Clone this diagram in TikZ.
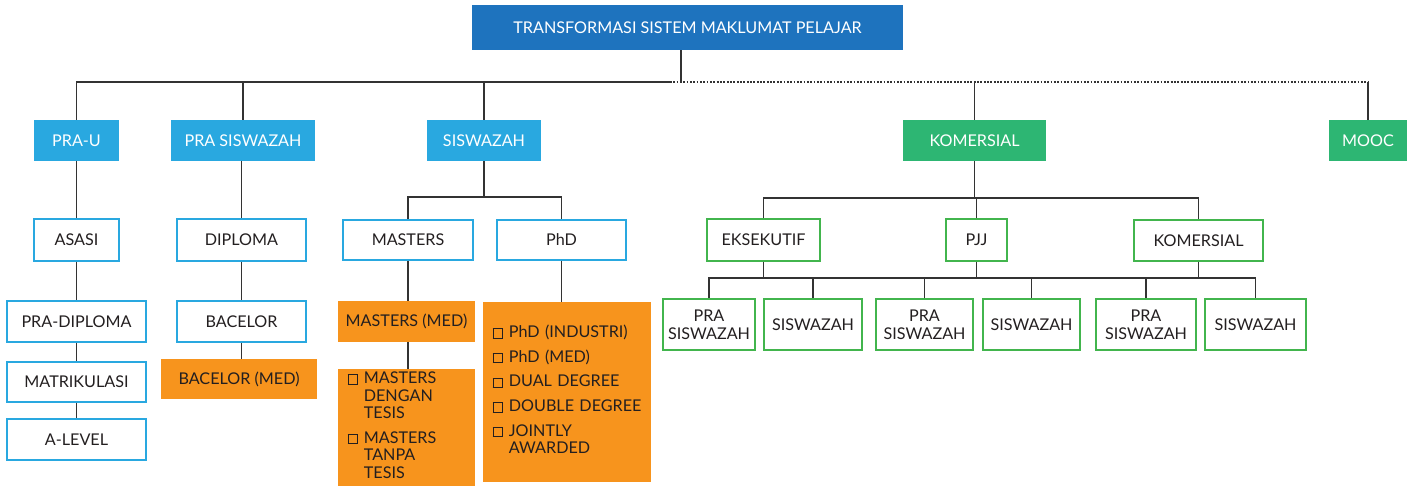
\documentclass[tikz,border=0pt]{standalone}
\usepackage{fontspec}
\setmainfont{Lato}
\definecolor{tajukbiru}{HTML}{1E73BE}
\definecolor{biru}{HTML}{29A8E0}
\definecolor{hijau}{HTML}{2DB673}
\definecolor{garishijau}{HTML}{42B54D}
\definecolor{jingga}{HTML}{F7941D}
\definecolor{garisan}{HTML}{333333}
\definecolor{teks}{HTML}{231F20}
% petak kecil untuk senarai
\newcommand{\petak}{{\fboxsep=0pt\fboxrule=0.6pt\fbox{\rule{0pt}{4.6pt}\rule{4.6pt}{0pt}}}}
\tikzset{
  kotak/.style={minimum height=0.82cm, inner sep=0pt, align=center},
  tajuk/.style={kotak, fill=tajukbiru, text=white},
  induk/.style={kotak, fill=biru, text=white},
  indukhijau/.style={kotak, fill=hijau, text=white},
  anakbiru/.style={kotak, draw=biru, line width=1.1pt, fill=white, text=teks},
  anakhijau/.style={kotak, draw=garishijau, line width=1.1pt, fill=white, text=teks},
  jinggabox/.style={kotak, fill=jingga, text=teks},
  senarai/.style={jinggabox, align=left, inner xsep=0.19cm},
  garis/.style={draw=garisan, line width=0.75pt},
  titik/.style={garis, dash pattern=on 1pt off 0.9pt}
}
\begin{document}
\begin{tikzpicture}[x=0.02cm, y=-0.02cm, font=\fontsize{9.2}{10}\selectfont]
  \useasboundingbox (0,0) rectangle (1412,486);
  % tajuk utama
  \node[tajuk, minimum width=8.62cm, minimum height=0.9cm] (tajuk) at (687.5,27.5) {TRANSFORMASI SISTEM MAKLUMAT PELAJAR};
  % aras 1
  \node[induk, minimum width=1.7cm] (prau) at (76.5,140.5) {PRA-U};
  \node[induk, minimum width=2.88cm] (prasis) at (243,140.5) {PRA SISWAZAH};
  \node[induk, minimum width=2.28cm] (sis) at (484,140.5) {SISWAZAH};
  \node[indukhijau, minimum width=2.86cm] (kom) at (974.5,140.5) {KOMERSIAL};
  \node[indukhijau, minimum width=1.56cm] (mooc) at (1368,140.5) {MOOC};
  % aras 2
  \node[anakbiru, minimum width=1.7cm, minimum height=0.84cm] (asasi) at (76.5,240) {ASASI};
  \node[anakbiru, minimum width=2.58cm, minimum height=0.84cm] (diploma) at (241.5,240) {DIPLOMA};
  \node[anakbiru, minimum width=2.6cm, minimum height=0.8cm] (masters) at (408,240) {MASTERS};
  \node[anakbiru, minimum width=2.58cm, minimum height=0.8cm] (phd) at (561.5,240) {PhD};
  \node[anakhijau, minimum width=2.26cm, minimum height=0.84cm] (eksekutif) at (763.5,240) {EKSEKUTIF};
  \node[anakhijau, minimum width=1.22cm, minimum height=0.84cm] (pjj) at (976.5,240) {PJJ};
  \node[anakhijau, minimum width=2.58cm, minimum height=0.82cm] (komb) at (1198.5,240.5) {KOMERSIAL};
  % aras 3 - PRA-U
  \node[anakbiru, minimum width=2.78cm] (pradip) at (76.5,321.5) {PRA-DIPLOMA};
  \node[anakbiru, minimum width=2.78cm, minimum height=0.8cm] (matrik) at (76.5,382) {MATRIKULASI};
  \node[anakbiru, minimum width=2.78cm] (alevel) at (76.5,439.5) {A-LEVEL};
  % aras 3 - PRA SISWAZAH
  \node[anakbiru, minimum width=2.58cm] (bacelor) at (241.5,321.5) {BACELOR};
  \node[jinggabox, minimum width=3.12cm, minimum height=0.8cm] (bacmed) at (239,379) {BACELOR (MED)};
  % aras 3 - SISWAZAH
  \node[jinggabox, minimum width=2.74cm] (masmed) at (406.5,321.5) {MASTERS (MED)};
  \node[senarai, minimum width=2.74cm, minimum height=2.34cm, text width=2.36cm] (maslist) at (406.5,427.5) {%
    \begin{tabular}{@{}l@{\hspace{3.5pt}}l@{}}
      \petak & MASTERS\\ & DENGAN\\ & TESIS\\[4pt]
      \petak & MASTERS\\ & TANPA\\ & TESIS
    \end{tabular}};
  \node[senarai, minimum width=3.36cm, minimum height=3.6cm, text width=2.98cm] (phdlist) at (567,392) {%
    \begin{tabular}{@{}l@{\hspace{3.5pt}}l@{}}
      \petak & PhD (INDUSTRI)\\[4pt]
      \petak & PhD (MED)\\[4pt]
      \petak & DUAL DEGREE\\[4pt]
      \petak & DOUBLE DEGREE\\[4pt]
      \petak & JOINTLY\\ & AWARDED
    \end{tabular}};
  % aras 3 - KOMERSIAL
  \node[anakhijau, minimum width=1.84cm, minimum height=1.02cm] (b1) at (709,324.5) {PRA\\SISWAZAH};
  \node[anakhijau, minimum width=1.96cm, minimum height=1.02cm] (b2) at (813,324.5) {SISWAZAH};
  \node[anakhijau, minimum width=1.94cm, minimum height=1.02cm] (b3) at (924.5,324.5) {PRA\\SISWAZAH};
  \node[anakhijau, minimum width=1.94cm, minimum height=1.02cm] (b4) at (1031.5,324.5) {SISWAZAH};
  \node[anakhijau, minimum width=2.0cm, minimum height=1.02cm] (b5) at (1146,324.5) {PRA\\SISWAZAH};
  \node[anakhijau, minimum width=2.02cm, minimum height=1.02cm] (b6) at (1255.5,324.5) {SISWAZAH};
  % garisan utama
  \coordinate (bus) at (681,82);
  \coordinate (busL) at (670,82);
  \draw[garis] (tajuk.south -| bus) -- (bus);
  \draw[garis] (prau.north) |- (busL);
  \draw[garis] (prasis.north) -- (prasis.north |- bus);
  \draw[garis] (sis.north) -- (sis.north |- bus);
  \draw[titik] (busL) -- (mooc.north |- bus);
  \draw[garis] (kom.north |- bus) -- (kom.north);
  \draw[garis] (mooc.north |- bus) -- (mooc.north);
  % PRA-U dan PRA SISWAZAH
  \draw[garis] (prau.south) -- (asasi.north);
  \draw[garis] (asasi.south) -- (pradip.north);
  \draw[garis] (pradip.south) -- (matrik.north);
  \draw[garis] (matrik.south) -- (alevel.north);
  \draw[garis] (diploma.north) -- (diploma.north |- prasis.south);
  \draw[garis] (diploma.south) -- (bacelor.north);
  \draw[garis] (bacelor.south) -- (bacelor.south |- bacmed.north);
  % SISWAZAH
  \coordinate (sisbus) at (484,197);
  \draw[garis] (sis.south) -- (sisbus);
  \draw[garis] (masters.north) |- (sisbus) -| (phd.north);
  \draw[garis] (masters.south) -- (masters.south |- masmed.north);
  \draw[garis] (masters.south |- masmed.south) -- (masters.south |- maslist.north);
  \draw[garis] (phd.south) -- (phd.south |- phdlist.north);
  % KOMERSIAL
  \coordinate (kombus) at (976,198);
  \coordinate (bawah) at (0,278);
  \draw[garis] (kom.south) -- (kom.south |- kombus);
  \draw[garis] (eksekutif.north) |- (kombus) -| (komb.north);
  \draw[garis] (pjj.north) -- (pjj.north |- kombus);
  \draw[garis] (b1.north) |- (b6.north |- bawah) -- (b6.north);
  \foreach \n in {eksekutif,pjj,komb}
    \draw[garis] (\n.south) -- (\n.south |- bawah);
  \foreach \n in {b2,b3,b4,b5}
    \draw[garis] (\n.north) -- (\n.north |- bawah);
\end{tikzpicture}
\end{document}
